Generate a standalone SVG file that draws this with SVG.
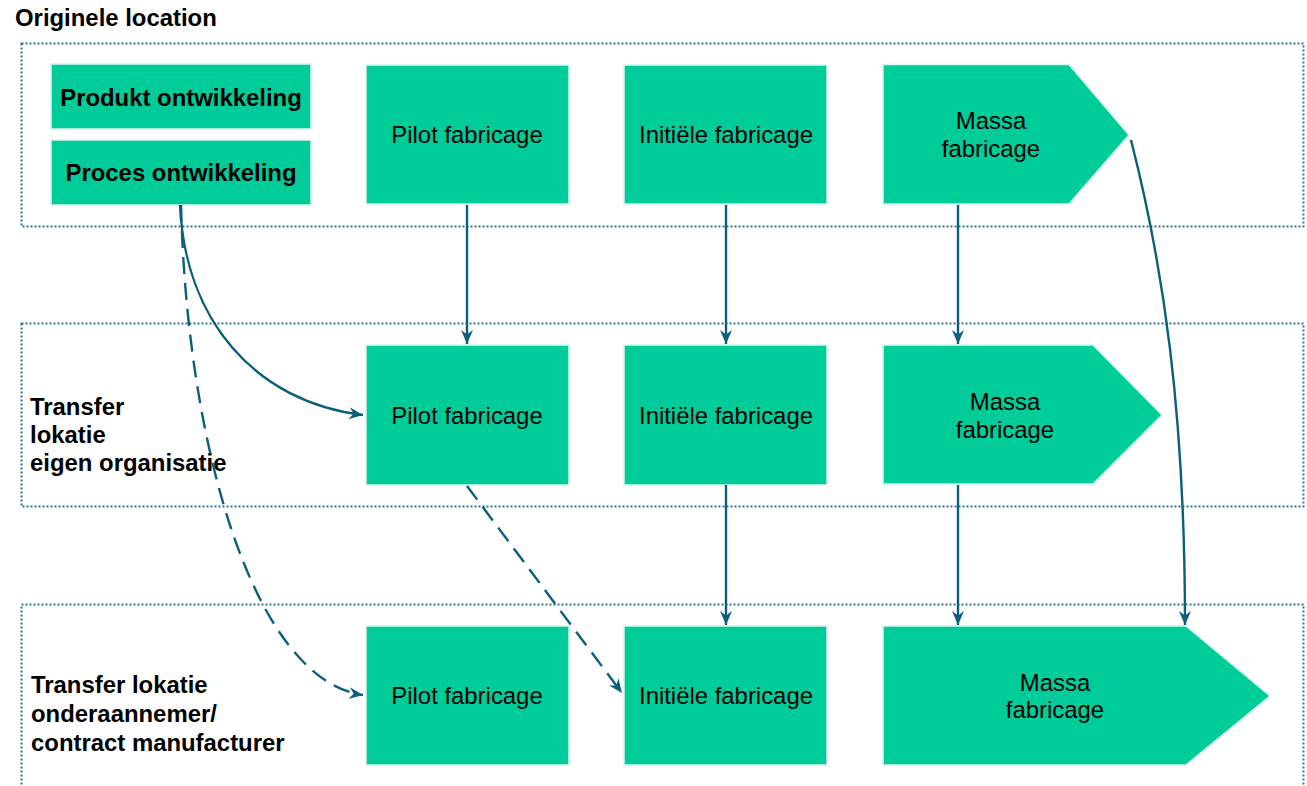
<svg xmlns="http://www.w3.org/2000/svg" width="1307" height="786" viewBox="0 0 1307 786">
<style>
.zone{fill:none;stroke:#2a7793;stroke-width:2;stroke-dasharray:2 2}
.box{fill:#00cc99;stroke:#d6f6ef;stroke-width:1.5}
.lbl{font-family:"Liberation Sans",Arial,sans-serif;font-size:23.9px;fill:#000}
.b{font-weight:bold}
.c{text-anchor:middle}
.con{fill:none;stroke:#0b5f7c;stroke-width:2.4}
.dash{stroke-dasharray:17 9}
</style>
<defs>
<marker id="arr" markerUnits="userSpaceOnUse" markerWidth="15" markerHeight="12" refX="14" refY="6" orient="auto" viewBox="0 0 15 12">
<path d="M0,0 L14,6 L0,12 L4.5,6 z" fill="#0b5f7c"/>
</marker>
</defs>
<rect width="1307" height="786" fill="#fff"/>
<text class="lbl b" x="15" y="26">Originele location</text>
<g id="zone-top"><rect class="zone" x="21.5" y="43.5" width="1282" height="183"/></g>
<g id="zone-mid"><rect class="zone" x="21.5" y="323.5" width="1282" height="183"/>
<text class="lbl b" x="30" y="415">Transfer</text>
<text class="lbl b" x="30" y="443">lokatie</text>
<text class="lbl b" x="30" y="471">eigen organisatie</text></g>
<g id="zone-bot"><rect class="zone" x="21.5" y="604.5" width="1282" height="200"/>
<text class="lbl b" x="31" y="693">Transfer lokatie</text>
<text class="lbl b" x="31" y="722">onderaannemer/</text>
<text class="lbl b" x="31" y="751">contract manufacturer</text></g>

<g id="produkt"><rect class="box" x="51" y="64" width="260" height="65"/><text class="lbl b c" x="181" y="106">Produkt ontwikkeling</text></g>
<g id="proces"><rect class="box" x="51" y="140" width="260" height="65"/><text class="lbl b c" x="181" y="181">Proces ontwikkeling</text></g>

<g id="pilot1"><rect class="box" x="366" y="65" width="203" height="139"/><text class="lbl c" x="467" y="143">Pilot fabricage</text></g>
<g id="init1"><rect class="box" x="624" y="65" width="203" height="139"/><text class="lbl c" x="726" y="143">Initiële fabricage</text></g>
<g id="massa1"><polygon class="box" points="883,64.5 1069,64.5 1129,135 1069,204 883,204"/><text class="lbl c" x="991" y="129">Massa</text><text class="lbl c" x="991" y="157">fabricage</text></g>

<g id="pilot2"><rect class="box" x="366" y="345" width="203" height="140"/><text class="lbl c" x="467" y="424">Pilot fabricage</text></g>
<g id="init2"><rect class="box" x="624" y="345" width="203" height="140"/><text class="lbl c" x="726" y="424">Initiële fabricage</text></g>
<g id="massa2"><polygon class="box" points="883,345 1093,345 1162,415 1093,484 883,484"/><text class="lbl c" x="1005" y="410">Massa</text><text class="lbl c" x="1005" y="438">fabricage</text></g>

<g id="pilot3"><rect class="box" x="366" y="626" width="203" height="139"/><text class="lbl c" x="467" y="704">Pilot fabricage</text></g>
<g id="init3"><rect class="box" x="624" y="626" width="203" height="139"/><text class="lbl c" x="726" y="704">Initiële fabricage</text></g>
<g id="massa3"><polygon class="box" points="883,626 1186,626 1270,696 1186,765 883,765"/><text class="lbl c" x="1055" y="691">Massa</text><text class="lbl c" x="1055" y="718">fabricage</text></g>

<g id="connectors">
<path class="con" marker-end="url(#arr)" d="M467,205 L467,344"/>
<path class="con" marker-end="url(#arr)" d="M726,205 L726,344"/>
<path class="con" marker-end="url(#arr)" d="M958,205 L958,344"/>
<path class="con" marker-end="url(#arr)" d="M726,485 L726,625"/>
<path class="con" marker-end="url(#arr)" d="M958,485 L958,625"/>
<path class="con" marker-end="url(#arr)" d="M1131,140 C1163,265 1185,410 1185,625"/>
<path class="con" marker-end="url(#arr)" d="M180,205 C185,320 255,402 363,415"/>
<path class="con dash" marker-end="url(#arr)" d="M181,205 C187,450 255,680 363,695"/>
<path class="con dash" marker-end="url(#arr)" d="M467,486 L622,693"/>
</g>
</svg>
